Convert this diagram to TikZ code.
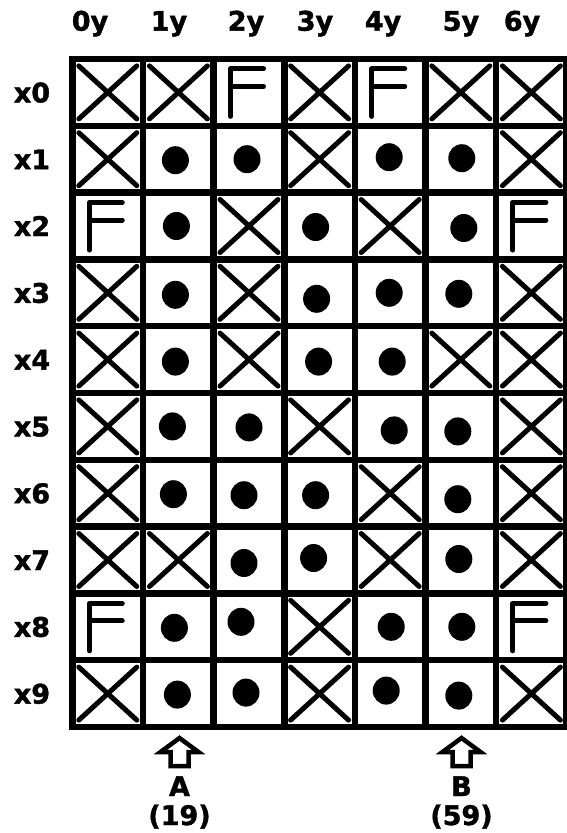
\documentclass[tikz,border=0pt]{standalone}
\usepackage{fontspec}
\setmainfont{DejaVu Sans}[BoldFeatures={FakeBold=1.5}]
\usetikzlibrary{positioning}

\begin{document}
\begin{tikzpicture}[
  x=1pt, y=-1pt,
  font=\fontsize{27}{29}\selectfont\bfseries,
  gridline/.style={line width=6.5pt, line cap=rect},
  cross/.style={line width=5pt, line cap=round},
  fmark/.style={line width=5pt, line cap=round, line join=round},
  lab/.style={anchor=base, inner sep=0pt},
  uparrow/.style={draw, fill=white, line width=4.5pt, miter limit=10}
]
  \fill[white] (0,0) rectangle (566,833);
  \useasboundingbox (0,0) rectangle (566,833);

  % column and row labels
  \foreach \t [count=\k from 0] in {90,169,246,315,383,461,522}
    \node[lab] (col\k) at (\t,30.7) {\k y};
  \foreach \r in {0,...,9}
    \node[lab] (row\r) at (32,{102.4+66.8*\r}) {x\r};

  % grid
  \foreach \k in {0,...,7}
    \draw[gridline] ({72.5+70.6*\k},59) -- ({72.5+70.6*\k},727);
  \foreach \k in {0,...,10}
    \draw[gridline] (72.5,{59+66.8*\k}) -- (566.7,{59+66.8*\k});

  % crosses
  \foreach \c/\r in {0/0,1/0,3/0,5/0,6/0, 0/1,3/1,6/1, 2/2,4/2, 0/3,2/3,6/3,
                     0/4,2/4,5/4,6/4, 0/5,3/5,6/5, 0/6,4/6,6/6, 0/7,1/7,4/7,6/7,
                     3/8, 0/9,3/9,6/9} {
    \coordinate (m) at ({107.8+70.6*\c},{92.4+66.8*\r});
    \draw[cross] (m) ++(-29,-26.5) -- ++(58,53) (m) ++(29,-26.5) -- ++(-58,53);
  }

  % F marks
  \foreach \c/\r in {2/0,4/0,0/2,6/2,0/8,6/8} {
    \coordinate (m) at ({107.8+70.6*\c},{92.4+66.8*\r});
    \draw[fmark] (m) ++(14.5,-23.5) -- ++(-33,0) -- ++(0,47.5) (m) ++(-18.5,-6) -- ++(33,0);
  }

  % dots
  \foreach \c/\r/\dx/\dy in {1/1/-3/1,2/1/-2/0,4/1/-1/-2,5/1/1/-1,
                             1/2/-2/0,3/2/-4/1,5/2/3/2,
                             1/3/-3/2,3/3/-3/6,4/3/-1/0,5/3/-2/1,
                             1/4/-3/2,3/4/-1/2,4/4/2/2,
                             1/5/-6/0,2/5/0/1,4/5/4/4,5/5/-3/5,
                             1/6/-5/1,2/6/-5/2,3/6/-4/2,5/6/-3/6,
                             2/7/-5/3,3/7/-6/-2,5/7/-2/-1,
                             1/8/-4/1,2/8/-8/-5,4/8/1/0,5/8/1/0,
                             1/9/-1/1,2/9/-3/-1,4/9/-4/-3,5/9/-2/2}
    \fill ({107.8+70.6*\c+\dx},{92.4+66.8*\r+\dy}) ellipse [x radius=13.5, y radius=14];

  % arrows and their labels
  \coordinate (tipA) at (179.5,738);
  \coordinate (tipB) at (461.5,738);
  \draw[uparrow] (tipA) -- ++(19,14) -- ++(-10,0) -- ++(0,14) -- ++(-18,0) -- ++(0,-14) -- ++(-10,0) -- cycle;
  \draw[uparrow] (tipB) -- ++(19,14) -- ++(-10,0) -- ++(0,14) -- ++(-18,0) -- ++(0,-14) -- ++(-10,0) -- cycle;
  \node[lab] (labA) at (179.5,796) {A};
  \node[lab] (valA) at (179.5,825) {(19)};
  \node[lab] (labB) at (461.5,796) {B};
  \node[lab] (valB) at (461.5,825) {(59)};
\end{tikzpicture}
\end{document}
